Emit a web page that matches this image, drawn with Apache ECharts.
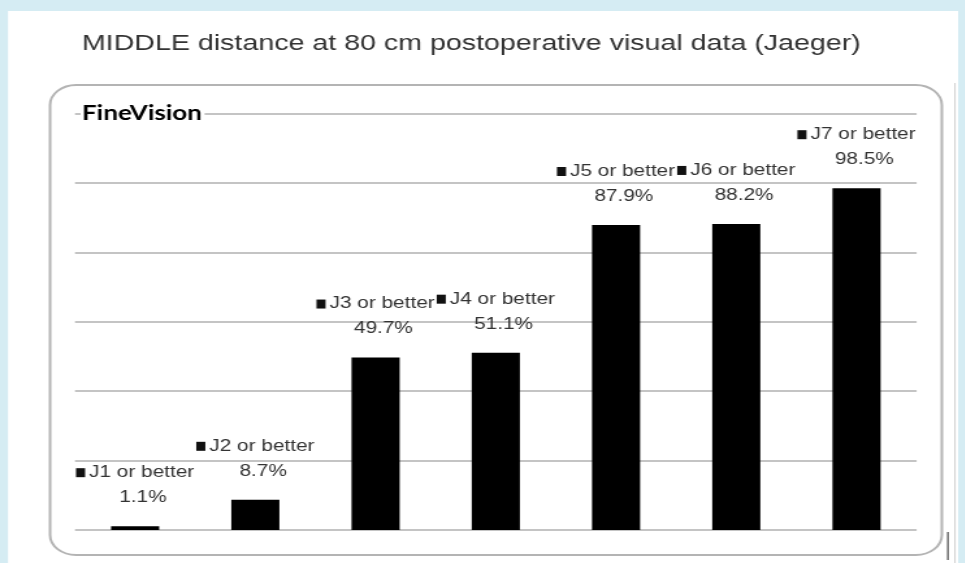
<!DOCTYPE html>
<html><head><meta charset="utf-8">
<script src="https://cdn.jsdelivr.net/npm/echarts@6/dist/echarts.min.js"></script>
<style>
html,body{margin:0;padding:0;background:#d5ecf3;overflow:hidden;}
#wrap{width:965px;height:563px;position:relative;overflow:hidden;}
#chart{width:742.3px;height:563px;transform:scaleX(1.3);transform-origin:0 0;}
</style></head><body><div id="wrap"><div id="chart"></div></div>
<script>
const titleText = 'MIDDLE distance at 80 cm postoperative visual data (Jaeger)';
const panelLabel = 'FineVision';
const categories = ['J1 or better', 'J2 or better', 'J3 or better', 'J4 or better', 'J5 or better', 'J6 or better', 'J7 or better'];
const values = [1.1, 8.7, 49.7, 51.1, 87.9, 88.2, 98.5];
const yMin = 0, yMax = 120, yInterval = 20;

const FONT = "'Liberation Sans', Arial, Helvetica, sans-serif";
const chart = echarts.init(document.getElementById('chart'), null, {renderer: 'canvas'});
chart.setOption({
  backgroundColor: '#d5ecf3',
  animation: false,
  title: {
    text: titleText,
    left: 58, top: 28,
    textStyle: {fontFamily: FONT, fontSize: 22, fontWeight: 'normal', color: '#333333'}
  },
  grid: {left: 57.7, right: 36.9, top: 113.6, bottom: 33, containLabel: false},
  xAxis: {
    type: 'category', data: categories,
    axisLine: {show: false}, axisTick: {show: false}, axisLabel: {show: false}
  },
  yAxis: {
    type: 'value', min: yMin, max: yMax, interval: yInterval,
    axisLine: {show: false}, axisTick: {show: false}, axisLabel: {show: false},
    splitLine: {show: true, lineStyle: {color: '#c4c4c4', width: 2}}
  },
  graphic: [
    {type: 'rect', z: -10, shape: {x: 6.2, y: 11, width: 730.8, height: 560}, style: {fill: '#ffffff'}},
    {type: 'rect', z: -9, shape: {x: 38.5, y: 85, width: 686, height: 470, r: 20}, style: {fill: 'none', stroke: '#b4b4b4', lineWidth: 2}},
    {type: 'line', z: -9, shape: {x1: 734.6, y1: 83, x2: 734.6, y2: 563}, style: {stroke: '#cfcfcf', lineWidth: 1}},
    {type: 'line', z: 50, shape: {x1: 729.2, y1: 532, x2: 729.2, y2: 560}, style: {stroke: '#777777', lineWidth: 1.6}},
    {type: 'text', z: 100, x: 62, y: 114,
      style: {text: panelLabel, fontFamily: "Lato, 'Open Sans', sans-serif", fontWeight: 'bold', fontSize: 20,
        fill: '#000', verticalAlign: 'middle', backgroundColor: '#ffffff', padding: [0, 2, 0, 1]}}
  ],
  series: [{
    type: 'bar',
    data: values,
    barWidth: 37,
    itemStyle: {color: '#000000'},
    emphasis: {disabled: true},
    label: {
      show: true, position: 'top', distance: 16, align: 'center',
      formatter: p => '{m|}{t|' + p.name + '}\n{v|' + p.value.toFixed(1) + '%}',
      rich: {
        m: {width: 7, height: 9, backgroundColor: '#111', lineHeight: 25},
        t: {fontFamily: FONT, fontSize: 16, color: '#333333', lineHeight: 25, padding: [0, 0, 0, 3]},
        v: {fontFamily: FONT, fontSize: 16, color: '#333333', lineHeight: 25, padding: [0, 0, 0, 12]}
      }
    }
  }]
});
</script></body></html>
